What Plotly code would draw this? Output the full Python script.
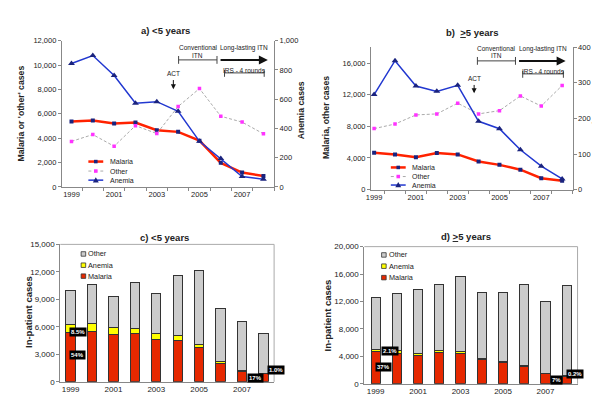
import plotly.graph_objects as go

years = [1999, 2000, 2001, 2002, 2003, 2004, 2005, 2006, 2007, 2008]
tick_years = [1999, 2001, 2003, 2005, 2007]

# Children under 5
malaria_u5 = [5370, 5450, 5210, 5290, 4650, 4520, 3800, 1980, 1180, 910]
other_u5 = [3740, 4300, 3340, 5030, 4380, 6600, 8070, 5800, 5320, 4360]
anemia_u5 = [844, 898, 762, 572, 583, 517, 312, 194, 71, 53]

# Five years and older
malaria_o5 = [4660, 4450, 4080, 4620, 4450, 3550, 3130, 2520, 1440, 1110]
other_o5 = [7710, 8290, 9440, 9570, 10930, 9570, 9980, 11840, 10560, 13160]
anemia_o5 = [267, 362, 291, 276, 293, 192, 171, 112, 66, 30]

labels_c = ["8.5%", "54%", "17%", "1.0%"]
labels_d = ["2.1%", "37%", "7%", "0.2%"]

FONT = "Liberation Sans, Arial, sans-serif"
TXT = "#222222"
AX = "#888888"
RED = "#FF2200"
NAVY = "#1A237E"
BLUE = "#2238D0"
PINK = "#FF33FF"
GREY_DASH = "#AAAAAA"
BAR_RED = "#E62800"
BAR_YEL = "#FFFF00"
BAR_GREY = "#CCCCCC"


def X(p):
    return p / 600.0


def Y(p):
    return 1 - p / 402.0


fig = go.Figure()

# ---- panel a
fig.add_trace(go.Scatter(x=years, y=malaria_u5, mode="lines+markers", name="Malaria",
                         line=dict(color=RED, width=2.5),
                         marker=dict(symbol="square", size=4, color=NAVY),
                         xaxis="x", yaxis="y"))
fig.add_trace(go.Scatter(x=years, y=other_u5, mode="lines+markers", name="Other",
                         line=dict(color=GREY_DASH, width=1, dash="3px,2px"),
                         marker=dict(symbol="square", size=3.5, color=PINK),
                         xaxis="x", yaxis="y"))
fig.add_trace(go.Scatter(x=years, y=anemia_u5, mode="lines+markers", name="Anemia",
                         line=dict(color=BLUE, width=1.5),
                         marker=dict(symbol="triangle-up", size=6, color=NAVY),
                         xaxis="x", yaxis="y2"))

# ---- panel b
fig.add_trace(go.Scatter(x=years, y=malaria_o5, mode="lines+markers", name="Malaria",
                         line=dict(color=RED, width=2.5),
                         marker=dict(symbol="square", size=4, color=NAVY),
                         xaxis="x2", yaxis="y3"))
fig.add_trace(go.Scatter(x=years, y=other_o5, mode="lines+markers", name="Other",
                         line=dict(color=GREY_DASH, width=1, dash="3px,2px"),
                         marker=dict(symbol="square", size=3.5, color=PINK),
                         xaxis="x2", yaxis="y3"))
fig.add_trace(go.Scatter(x=years, y=anemia_o5, mode="lines+markers", name="Anemia",
                         line=dict(color=BLUE, width=1.5),
                         marker=dict(symbol="triangle-up", size=6, color=NAVY),
                         xaxis="x2", yaxis="y4"))

# ---- panels c, d (stacked bars)
for xa, ya, mal, ane, oth in [("x3", "y5", malaria_u5, anemia_u5, other_u5),
                              ("x4", "y6", malaria_o5, anemia_o5, other_o5)]:
    for vals, col, nm in [(mal, BAR_RED, "Malaria"), (ane, BAR_YEL, "Anemia"), (oth, BAR_GREY, "Other")]:
        fig.add_trace(go.Bar(x=years, y=vals, name=nm, width=0.43,
                             marker=dict(color=col, line=dict(color="#333333", width=1)),
                             xaxis=xa, yaxis=ya))

tickfont = dict(family=FONT, size=7.5, color=TXT)
tickfont_bar = dict(family=FONT, size=8, color=TXT)


def xax(dom, anchor, rng, tf=tickfont):
    return dict(domain=[X(dom[0]), X(dom[1])], anchor=anchor, range=rng,
                tickvals=tick_years, ticktext=[str(t) for t in tick_years],
                showline=True, linecolor=AX, linewidth=1, ticks="",
                minor=dict(tick0=1998.5, dtick=1, ticks="outside", ticklen=3, tickcolor=AX),
                tickfont=tf, showgrid=False, zeroline=False, fixedrange=True)


def yax(dom, rng, dtick, side="left", overlaying=None, anchor=None, tickvals=None, tf=tickfont):
    d = dict(range=rng, dtick=dtick, tickformat=",", showline=True, linecolor=AX, linewidth=1,
             ticks="outside", ticklen=3, tickcolor=AX, tickfont=tf, showgrid=False,
             zeroline=False, side=side)
    if dom is not None:
        d["domain"] = [Y(dom[0]), Y(dom[1])]
    if overlaying:
        d["overlaying"] = overlaying
    if anchor:
        d["anchor"] = anchor
    if tickvals:
        d["tickvals"] = tickvals
        d["tickmode"] = "array"
    return d


fig.update_layout(
    width=600, height=402, margin=dict(l=0, r=0, t=0, b=0),
    paper_bgcolor="white", plot_bgcolor="rgba(0,0,0,0)",
    showlegend=False, barmode="stack",
    font=dict(family=FONT, color=TXT),
    xaxis=xax((49.3, 263.3), "y", [1998.55, 2008.5]),
    yaxis=yax((179, 29.3), [0, 12000], 2000, anchor="x"),
    yaxis2=yax(None, [0, 1000], 200, side="right", overlaying="y", anchor="x"),
    xaxis2=xax((361, 564.3), "y3", [1998.85, 2008.5]),
    yaxis3=yax((181.7, 36), [0, 18000], 4000, anchor="x2", tickvals=[0, 4000, 8000, 12000, 16000]),
    yaxis4=yax(None, [0, 400], 100, side="right", overlaying="y3", anchor="x2"),
    xaxis3=xax((47.7, 263.3), "y5", [1998.52, 2008.5], tf=tickfont_bar),
    yaxis5=yax((378.3, 237.7), [0, 15000], 3000, anchor="x3", tf=tickfont_bar),
    xaxis4=xax((354.3, 569.3), "y6", [1998.47, 2008.51], tf=tickfont_bar),
    yaxis6=yax((380.3, 240), [0, 20000], 4000, anchor="x4", tf=tickfont_bar),
)
for ax in ["xaxis3", "xaxis4"]:
    fig.layout[ax].minor = dict(ticks="")

shapes = []
ann = []


def text(x, y, s, size=7, bold=False, angle=0, xanchor="center", color=TXT, bg=None):
    d = dict(x=X(x), y=Y(y), xref="paper", yref="paper", text=("<b>%s</b>" % s) if bold else s,
             showarrow=False, textangle=angle, xanchor=xanchor, yanchor="middle",
             font=dict(family=FONT, size=size, color=color))
    if bg:
        d["bgcolor"] = bg
        d["borderpad"] = 1
    ann.append(d)


def pline(x0, y0, x1, y1, color="#444444", width=1, dash=None):
    ln = dict(color=color, width=width)
    if dash:
        ln["dash"] = dash
    shapes.append(dict(type="line", xref="paper", yref="paper", x0=X(x0), y0=Y(y0), x1=X(x1), y1=Y(y1), line=ln))


# frames for bar panels (top / right light border)
for (x0, x1, yt, yb) in [(47.7, 263.3, 237.7, 378.3), (354.3, 569.3, 240, 380.3)]:
    pline(x0, yt, x1, yt, color="#AAAAAA")
    pline(x1, yt, x1, yb, color="#AAAAAA")

# titles
text(154, 19.3, "a) &lt;5 years", size=9.5, bold=True)
text(463, 21, "b)  <u>&gt;</u>5 years", size=9.5, bold=True)
text(152.5, 230.7, "c) &lt;5 years", size=9.5, bold=True)
text(457, 230, "d) <u>&gt;</u>5 years", size=9.5, bold=True)

# axis titles
text(8, 104, "Malaria or 'other' cases", size=8.7, bold=True, angle=-90)
text(290, 101, "Anemia cases", size=8.7, bold=True, angle=-90)
text(315, 108, "Malaria, other cases", size=8.7, bold=True, angle=-90)
text(587, 110, "Anemia cases", size=8.5, bold=True, angle=-90)
text(15, 307, "In-patient cases", size=9.5, bold=True, angle=-90)
text(317, 310, "In-patient cases", size=9.5, bold=True, angle=-90)


# line legends
def line_legend(x0, x1, xt, ys):
    specs = [("Malaria", RED, 2.5, None, "sq", NAVY),
             ("Other", GREY_DASH, 1, "dot", "sq", PINK),
             ("Anemia", BLUE, 1.5, None, "tri", NAVY)]
    for (nm, col, w, dash, mk, mc), yy in zip(specs, ys):
        pline(x0, yy, x1, yy, color=col, width=w, dash=dash)
        cx = (x0 + x1) / 2
        if mk == "sq":
            shapes.append(dict(type="rect", xref="paper", yref="paper", x0=X(cx - 1.8), x1=X(cx + 1.8),
                               y0=Y(yy + 1.8), y1=Y(yy - 1.8), fillcolor=mc, line=dict(width=0)))
        else:
            shapes.append(dict(type="path", xref="paper", yref="paper",
                               path="M %f,%f L %f,%f L %f,%f Z" % (X(cx - 3), Y(yy + 2.3), X(cx + 3), Y(yy + 2.3), X(cx), Y(yy - 3)),
                               fillcolor=mc, line=dict(width=0)))
        text(xt, yy, nm, size=7, xanchor="left")


line_legend(76, 91, 96, [153, 162.7, 172])
line_legend(381, 396, 400, [159, 168.3, 177])


# bar legends
def bar_legend(x, ys):
    for (nm, col), yy in zip([("Other", BAR_GREY), ("Anemia", BAR_YEL), ("Malaria", BAR_RED)], ys):
        shapes.append(dict(type="rect", xref="paper", yref="paper", x0=X(x - 2.3), x1=X(x + 2.3),
                           y0=Y(yy + 2.3), y1=Y(yy - 2.3), fillcolor=col, line=dict(color="#333333", width=0.8)))
        text(x + 3, yy, nm, size=7.3, xanchor="left")


bar_legend(71, [247.5, 259, 270.2])
bar_legend(374, [248.5, 260, 271.7])


# intervention annotations
def interventions(cb0, cb1, cy, arr1, irs0, irs1, irsy, act_x, act_top, act_tip):
    pline(cb0, cy, cb1, cy)
    pline(cb0, cy - 4, cb0, cy + 4)
    pline(cb1, cy - 4, cb1, cy + 4)
    text((cb0 + cb1) / 2, cy - 12.5, "Conventional", size=6.5)
    text((cb0 + cb1) / 2, cy - 5, "ITN", size=6.5)
    ann.append(dict(x=X(arr1), y=Y(cy), xref="paper", yref="paper", ax=-(arr1 - cb1 - 2.5), ay=0,
                    text="", showarrow=True, arrowhead=2,
                    arrowsize=0.9, arrowwidth=2, arrowcolor="#111111"))
    text((cb1 + arr1) / 2 + 2, cy - 12.5, "Long-lasting ITN", size=6.5)
    pline(irs0, irsy, irs1, irsy)
    pline(irs0, irsy - 3, irs0, irsy + 4)
    pline(irs1, irsy - 3, irs1, irsy + 4)
    text((irs0 + irs1) / 2, irsy - 2.5, "IRS - 4 rounds", size=6.5)
    text(act_x, act_top, "ACT", size=6.5)
    ann.append(dict(x=X(act_x), y=Y(act_tip), xref="paper", yref="paper", ax=0, ay=-(act_tip - act_top - 5),
                    text="", showarrow=True, arrowhead=2,
                    arrowsize=1, arrowwidth=1, arrowcolor="#111111"))


interventions(167, 205.7, 49, 257, 213.3, 253.3, 62.3, 161.7, 63.3, 79)
interventions(468.3, 506.7, 50, 557.3, 514, 555, 63.3, 465, 68.3, 83)

# percentage boxes on bar panels (black boxes, white text)
for (px, py), lab in zip([(65.5, 327.8), (65.3, 351.3), (244.5, 374.7), (265, 365.8)], labels_c):
    text(px, py, lab, size=6, bold=True, color="white", bg="black")
for (px, py), lab in zip([(380.5, 346.3), (373.2, 362.8), (547.7, 376), (566.3, 370.3)], labels_d):
    text(px, py, lab, size=6, bold=True, color="white", bg="black")

fig.update_layout(shapes=shapes, annotations=ann)
fig.write_html("out.html")
